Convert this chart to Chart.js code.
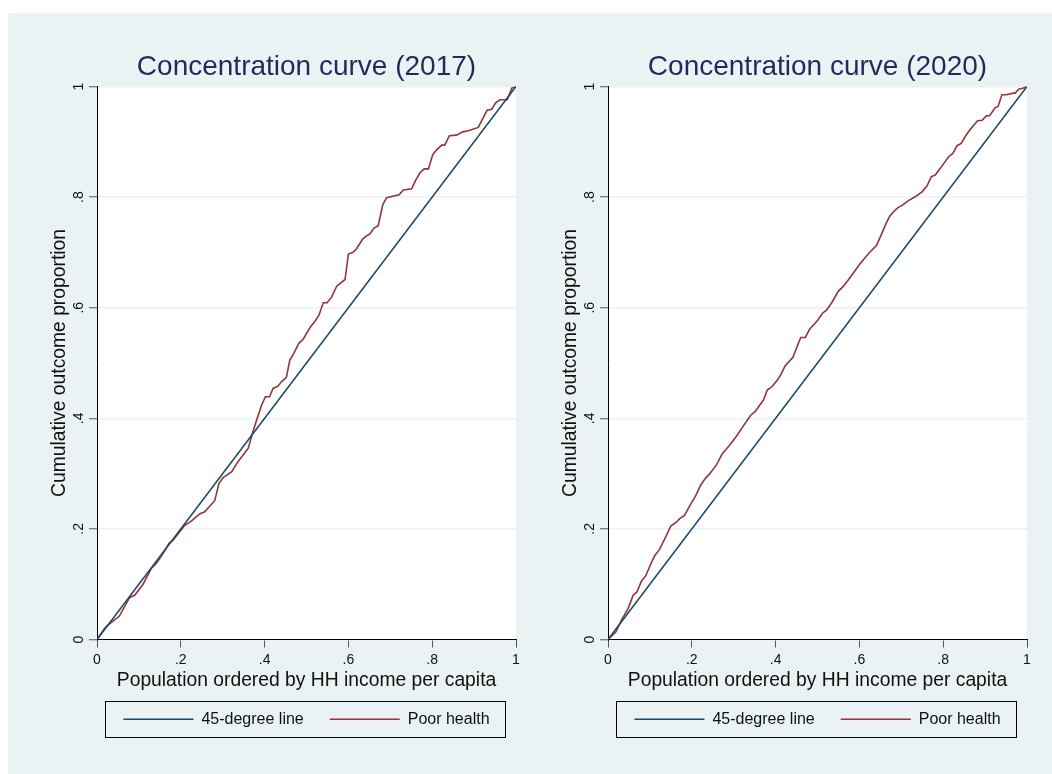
<!DOCTYPE html>
<html>
<head>
<meta charset="utf-8">
<script src="https://cdn.jsdelivr.net/npm/chart.js@4.4.1/dist/chart.umd.min.js"></script>
<style>
  html, body { margin: 0; padding: 0; background: #ffffff; }
  body { width: 1052px; height: 774px; position: relative; overflow: hidden; }
  #bg { position: absolute; left: 8px; top: 13px; width: 1044px; height: 761px; background: #EAF2F3; }
  canvas { position: absolute; top: 13px; }
  #c2017 { left: 19px; }
  #c2020 { left: 530px; }
</style>
</head>
<body>
<div id="bg"></div>
<canvas id="c2017" width="511" height="761"></canvas>
<canvas id="c2020" width="511" height="761"></canvas>
<script>
// ---- data ----
const chartTitles = ['Concentration curve (2017)', 'Concentration curve (2020)'];
const seriesNames = ['45-degree line', 'Poor health'];
const xAxisTitle = 'Population ordered by HH income per capita';
const yAxisTitle = 'Cumulative outcome proportion';
const tickLabels = ['0', '.2', '.4', '.6', '.8', '1'];

const equalityX = [0, 1];
const equalityY = [0, 1];

const pop2017 = [0, 0.018, 0.026, 0.053, 0.078, 0.09, 0.11, 0.13, 0.142, 0.159, 0.172, 0.182, 0.209, 0.225, 0.245, 0.257, 0.281, 0.291, 0.301, 0.321, 0.337, 0.361, 0.371, 0.381, 0.393, 0.402, 0.412, 0.42, 0.432, 0.44, 0.452, 0.46, 0.47, 0.482, 0.492, 0.51, 0.52, 0.53, 0.54, 0.549, 0.56, 0.572, 0.592, 0.6, 0.611, 0.62, 0.634, 0.643, 0.651, 0.661, 0.671, 0.682, 0.691, 0.721, 0.731, 0.751, 0.761, 0.771, 0.781, 0.791, 0.801, 0.811, 0.823, 0.83, 0.841, 0.858, 0.873, 0.886, 0.91, 0.92, 0.931, 0.942, 0.952, 0.962, 0.979, 0.99, 1];
const health2017 = [0, 0.020, 0.026, 0.042, 0.076, 0.080, 0.10, 0.129, 0.138, 0.157, 0.174, 0.18, 0.206, 0.214, 0.227, 0.231, 0.251, 0.282, 0.293, 0.303, 0.322, 0.346, 0.373, 0.397, 0.424, 0.439, 0.439, 0.454, 0.458, 0.466, 0.474, 0.505, 0.518, 0.536, 0.543, 0.566, 0.575, 0.587, 0.609, 0.609, 0.619, 0.639, 0.651, 0.697, 0.700, 0.707, 0.724, 0.730, 0.733, 0.744, 0.748, 0.786, 0.799, 0.804, 0.813, 0.815, 0.831, 0.844, 0.851, 0.851, 0.876, 0.886, 0.894, 0.894, 0.911, 0.912, 0.918, 0.92, 0.926, 0.941, 0.957, 0.959, 0.971, 0.976, 0.976, 0.997, 1];

const pop2020 = [0, 0.019, 0.032, 0.048, 0.06, 0.069, 0.08, 0.09, 0.1, 0.111, 0.123, 0.136, 0.15, 0.163, 0.172, 0.182, 0.196, 0.21, 0.221, 0.232, 0.242, 0.26, 0.272, 0.282, 0.291, 0.307, 0.322, 0.341, 0.351, 0.371, 0.38, 0.391, 0.403, 0.412, 0.423, 0.441, 0.451, 0.46, 0.471, 0.481, 0.5, 0.512, 0.522, 0.534, 0.55, 0.561, 0.58, 0.601, 0.622, 0.641, 0.65, 0.663, 0.672, 0.682, 0.692, 0.702, 0.718, 0.734, 0.75, 0.761, 0.772, 0.781, 0.793, 0.813, 0.823, 0.833, 0.843, 0.853, 0.863, 0.882, 0.893, 0.903, 0.911, 0.923, 0.931, 0.94, 0.951, 0.967, 0.972, 0.98, 0.99, 1];
const health2020 = [0, 0.014, 0.035, 0.056, 0.08, 0.086, 0.106, 0.115, 0.133, 0.151, 0.163, 0.183, 0.205, 0.212, 0.219, 0.224, 0.243, 0.261, 0.279, 0.291, 0.299, 0.317, 0.335, 0.344, 0.352, 0.368, 0.385, 0.406, 0.412, 0.433, 0.451, 0.457, 0.468, 0.478, 0.495, 0.51, 0.529, 0.546, 0.546, 0.561, 0.577, 0.59, 0.596, 0.609, 0.63, 0.638, 0.657, 0.679, 0.698, 0.713, 0.728, 0.751, 0.765, 0.774, 0.781, 0.785, 0.794, 0.801, 0.81, 0.82, 0.837, 0.84, 0.852, 0.873, 0.879, 0.893, 0.897, 0.91, 0.921, 0.938, 0.939, 0.947, 0.947, 0.961, 0.964, 0.985, 0.985, 0.988, 0.988, 0.995, 0.997, 1];

// ---- style ----
const FONT = '"Liberation Sans", Arial, Helvetica, sans-serif';
const BLUE = '#1a476f';
const RED = '#90353b';
const BG = '#EAF2F3';
const TITLE_COLOR = '#1e2c5a';

Chart.defaults.font.family = FONT;
Chart.defaults.color = '#111';

const toPoints = (xs, ys) => xs.map((x, i) => ({ x: x, y: ys[i] }));

const plotBg = {
  id: 'plotBg',
  beforeDraw(chart) {
    const { ctx, chartArea: a } = chart;
    ctx.save();
    ctx.fillStyle = '#ffffff';
    ctx.fillRect(a.left, a.top, a.right - a.left, a.bottom - a.top);
    ctx.restore();
  }
};

const legendFrame = {
  id: 'legendFrame',
  afterDraw(chart) {
    const lg = chart.legend;
    if (!lg || !lg.legendHitBoxes || !lg.legendHitBoxes.length) return;
    const hb = lg.legendHitBoxes;
    const first = hb[0], last = hb[hb.length - 1];
    const cx = (first.left + last.left + last.width) / 2 - 2;
    const cy = first.top + first.height / 2;
    const ctx = chart.ctx;
    ctx.save();
    ctx.strokeStyle = '#000';
    ctx.lineWidth = 1;
    ctx.strokeRect(Math.round(cx - 200) + 0.5, Math.round(cy - 18) + 0.5, 400, 36);
    ctx.restore();
  }
};

function makeChart(id, title, xs, ys) {
  return new Chart(document.getElementById(id), {
    type: 'scatter',
    data: {
      datasets: [
        {
          label: seriesNames[0],
          data: toPoints(equalityX, equalityY),
          showLine: true,
          borderColor: BLUE,
          backgroundColor: BLUE,
          borderWidth: 1.6,
          pointRadius: 0,
          tension: 0
        },
        {
          label: seriesNames[1],
          data: toPoints(xs, ys),
          showLine: true,
          borderColor: RED,
          backgroundColor: RED,
          borderWidth: 1.6,
          pointRadius: 0,
          tension: 0
        }
      ]
    },
    options: {
      responsive: false,
      animation: false,
      events: [],
      layout: { padding: { left: 0, right: 14, top: 0, bottom: 36.7 } },
      scales: {
        x: {
          type: 'linear',
          min: 0, max: 1,
          afterBuildTicks(scale) {
            scale.ticks = tickLabels.map((t, i) => ({ value: i / 5 }));
          },
          afterFit(scale) {
            scale.height = 45.8;
            scale.paddingLeft = 0;
            scale.paddingRight = 0;
          },
          grid: {
            drawOnChartArea: false,
            drawTicks: true,
            tickLength: 8,
            tickColor: '#555',
            tickWidth: 1
          },
          border: { display: true, color: '#000', width: 1 },
          ticks: {
            padding: 4.3,
            maxRotation: 0,
            minRotation: 0,
            autoSkip: false,
            color: '#111',
            font: { size: 14 },
            callback: (v, i) => tickLabels[i]
          },
          title: {
            display: true,
            text: xAxisTitle,
            color: '#111',
            font: { size: 19.3, lineHeight: 1.2 },
            padding: { top: 0, bottom: -7.3 }
          }
        },
        y: {
          type: 'linear',
          min: 0, max: 1,
          afterBuildTicks(scale) {
            scale.ticks = tickLabels.map((t, i) => ({ value: i / 5 }));
          },
          afterFit(scale) {
            scale.width = 78;
            scale.paddingTop = 0;
            scale.paddingBottom = 0;
          },
          grid: {
            drawOnChartArea: true,
            color: BG,
            lineWidth: 1.5,
            drawTicks: true,
            tickLength: 8,
            tickColor: '#555',
            tickWidth: 1
          },
          border: { display: true, color: '#000', width: 1 },
          ticks: {
            padding: 4.3,
            minRotation: 90,
            maxRotation: 90,
            crossAlign: 'center',
            autoSkip: false,
            color: '#111',
            font: { size: 14 },
            callback: (v, i) => tickLabels[i]
          },
          title: {
            display: true,
            text: yAxisTitle,
            color: '#111',
            font: { size: 19.3, lineHeight: 1.2 },
            padding: { top: 28.9, bottom: 0 }
          }
        }
      },
      plugins: {
        title: {
          display: true,
          text: title,
          color: TITLE_COLOR,
          fullSize: false,
          font: { size: 28, weight: 'normal', lineHeight: 1.2 },
          padding: { top: 37.2, bottom: 2.7 }
        },
        legend: {
          display: true,
          position: 'bottom',
          fullSize: false,
          labels: {
            boxWidth: 70,
            boxHeight: 1.6,
            padding: 26,
            color: '#111',
            font: { size: 16 },
            generateLabels(chart) {
              return Chart.defaults.plugins.legend.labels.generateLabels(chart)
                .map(l => Object.assign({}, l, { lineWidth: 0 }));
            }
          }
        },
        tooltip: { enabled: false }
      }
    },
    plugins: [plotBg, legendFrame]
  });
}

makeChart('c2017', chartTitles[0], pop2017, health2017);
makeChart('c2020', chartTitles[1], pop2020, health2020);
</script>
</body>
</html>
